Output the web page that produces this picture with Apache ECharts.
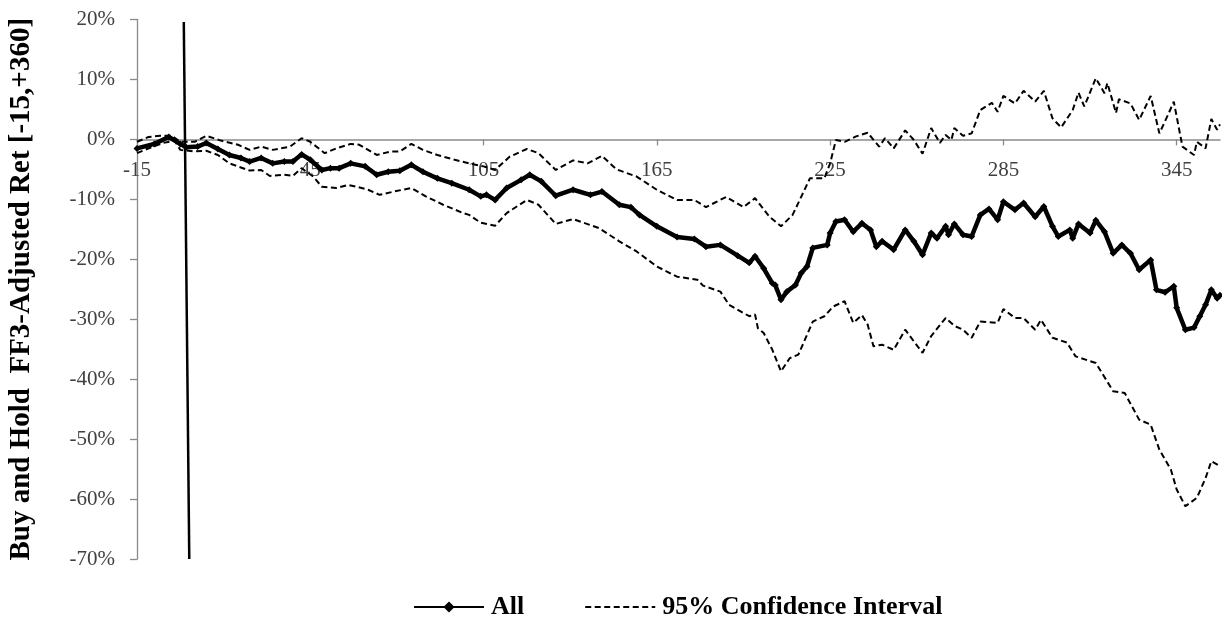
<!DOCTYPE html>
<html>
<head>
<meta charset="utf-8">
<title>Buy and Hold FF3-Adjusted Returns</title>
<script src="https://cdn.jsdelivr.net/npm/echarts@6/dist/echarts.min.js"></script>
<style>
  html, body { margin: 0; padding: 0; background: #ffffff; }
  #chart { width: 1222px; height: 620px; }
</style>
</head>
<body>
<div id="chart"></div>
<script>
// Event-time axis ticks (trading days relative to the event)
const dayTicks = [-15, 45, 105, 165, 225, 285, 345];

// Cumulative buy-and-hold FF3-adjusted return, all firms (%)
const allDays = [-15,-9,-4,0,2,6,9,13,17,21,24,28,32,36,39,42,45,49,52,55,59,64,68,72,76,80,84,89,94,100,104,106,109,113,118,121,125,130,136,142,146,152,156,159,165,172,178,182,187,193,197,199,202,205,206,208,210,213,215,217,219,224,225,227,230,233,236,239,241,243,247,251,254,257,260,262,265,266,268,271,274,277,280,283,285,289,292,296,299,302,304,308,309,311,315,317,320,323,326,329,332,336,338,341,344,345,348,351,353,355,357,359,360];
const allRet = [-1.5,-0.75,0.4,-0.75,-1.3,-1.2,-0.6,-1.6,-2.6,-3.1,-3.7,-3.1,-4.0,-3.7,-3.7,-2.5,-3.4,-5.1,-4.8,-4.8,-4.0,-4.5,-5.9,-5.4,-5.25,-4.25,-5.4,-6.5,-7.3,-8.4,-9.5,-9.25,-10.1,-8.1,-6.75,-5.9,-7.0,-9.4,-8.4,-9.25,-8.7,-10.9,-11.3,-12.6,-14.5,-16.3,-16.6,-17.9,-17.6,-19.4,-20.6,-19.5,-21.5,-24,-24.3,-26.75,-25.4,-24.3,-22.3,-21.2,-18.1,-17.6,-15.6,-13.7,-13.4,-15.4,-14.0,-15.1,-17.9,-17.0,-18.4,-15.1,-17.0,-19.25,-15.6,-16.5,-14.5,-15.9,-14.1,-15.9,-16.2,-12.6,-11.6,-13.4,-10.4,-11.75,-10.6,-12.9,-11.2,-14.5,-16.2,-15.1,-16.5,-14.1,-15.6,-13.5,-15.4,-19,-17.6,-19.0,-21.75,-20.1,-25.1,-25.5,-24.5,-28.1,-31.75,-31.4,-29.5,-27.6,-25.1,-26.5,-26.0];

// Upper bound of the 95% confidence interval (%)
const upperDays = [-15,-11,-7,-3,0,5,9,14,20,24,28,32,38,42,45,50,54,59,62,68,73,76,80,84,89,95,100,105,109,114,120,124,130,136,141,146,151,158,165,172,178,182,189,195,199,204,208,212,214,218,223,225,227,230,234,238,242,244,247,251,254,257,260,263,265,267,268,271,274,277,281,283,285,289,292,296,299,302,305,309,311,313,317,320,321,324,325,329,332,336,339,342,344,347,351,352,355,357,359,360];
const upperRet = [-0.4,0.4,0.6,0.6,-0.4,-0.4,0.6,-0.2,-0.9,-1.75,-1.2,-1.75,-1.2,0.2,-0.4,-2.3,-1.5,-0.75,-0.9,-2.6,-2.0,-2.0,-0.75,-1.75,-2.6,-3.4,-4.0,-4.5,-5.1,-2.9,-1.6,-2.3,-5.1,-3.5,-4.0,-2.75,-5.0,-6.2,-8.4,-10.1,-10.1,-11.3,-9.6,-11.3,-9.8,-12.9,-14.5,-12.6,-10.6,-6.5,-6.5,-4.0,-0.1,-0.4,0.5,1.1,-1.2,0.2,-1.5,1.5,-0.1,-2.4,1.9,-0.6,0.75,-0.1,1.9,0.6,1.0,4.9,6.1,4.6,7.25,6.0,8.1,6.3,8.1,3.5,2.0,4.9,7.8,5.5,10.2,7.7,9.4,4.4,6.7,6.0,3.25,7.25,1.0,4.1,6.3,-1.2,-2.6,-0.4,-1.5,3.4,1.6,2.5];

// Lower bound of the 95% confidence interval (%)
const lowerDays = [-15,-10,-6,-2,0,5,9,13,17,24,28,31,36,39,42,46,49,54,58,61,65,69,74,80,85,91,98,100,104,109,113,120,124,130,136,145,152,158,165,172,179,181,187,190,197,199,200,202,205,208,211,214,219,223,226,230,233,236,238,240,243,247,251,254,257,260,265,268,271,274,277,283,285,289,292,296,298,302,307,310,317,323,327,332,336,339,343,345,348,352,355,357,360];
const lowerRet = [-2.3,-1.3,-0.6,-0.2,-1.75,-2.0,-1.9,-2.6,-4.0,-5.2,-5.1,-6.1,-5.9,-6.1,-4.8,-6.2,-7.9,-8.1,-7.6,-7.9,-8.4,-9.25,-8.7,-8.1,-9.5,-10.9,-12.3,-12.6,-13.9,-14.4,-12.3,-10.1,-10.9,-14.1,-13.3,-14.8,-17.0,-18.7,-21.2,-22.9,-23.4,-24.4,-25.4,-27.6,-29.5,-29.2,-31.5,-32.3,-35.1,-38.7,-36.5,-35.9,-30.4,-29.5,-27.9,-27.0,-30.6,-29.3,-30.9,-34.5,-34.25,-35.1,-31.75,-33.7,-35.6,-32.8,-29.8,-31.1,-31.75,-33.1,-30.4,-30.6,-28.3,-29.8,-29.8,-31.75,-30.1,-33.1,-33.9,-36.2,-37.3,-42,-42.3,-46.75,-47.6,-51.75,-55.1,-58.4,-61.2,-59.8,-56.5,-53.7,-54.5];

// Event-day marker line (day, %)
const eventDays = [1.2, 3.1];
const eventRet = [19.6, -70];

const zip = (xs, ys) => xs.map((x, i) => [x, ys[i]]);

const SERIF = '"Liberation Serif", "DejaVu Serif", serif';
const AXIS_GREY = '#8a8a8a';
const CI_NAME = '95% Confidence Interval';

// Plot box
const GRID = { left: 137, right: 2, top: 19.5, bottom: 61 };
const Y_MIN = -70, Y_MAX = 20;
// Horizontal axis sits on the 0% line
const plotHeight = 620 - GRID.top - GRID.bottom;
const zeroOffset = -plotHeight * (0 - Y_MIN) / (Y_MAX - Y_MIN);

const chart = echarts.init(document.getElementById('chart'), null, { renderer: 'canvas' });

chart.setOption({
  animation: false,
  backgroundColor: '#ffffff',
  grid: Object.assign({ containLabel: false, outerBoundsMode: 'none' }, GRID),
  legend: {
    data: ['All', { name: CI_NAME, itemStyle: { opacity: 0 } }],
    bottom: 0,
    left: 413,
    padding: 0,
    itemWidth: 70,
    itemHeight: 14,
    itemGap: 60,
    textStyle: { fontFamily: SERIF, fontWeight: 'bold', fontSize: 26, color: '#000', padding: [0, 0, 0, 2] }
  },
  xAxis: {
    type: 'value',
    min: -15,
    max: 360,
    offset: zeroOffset,
    axisLine: { onZero: false, lineStyle: { color: AXIS_GREY, width: 1.5 } },
    axisTick: { show: true, length: 6, customValues: dayTicks, lineStyle: { color: AXIS_GREY, width: 1.3 } },
    axisLabel: {
      customValues: dayTicks,
      margin: 21,
      fontFamily: SERIF,
      fontSize: 21,
      color: '#404040'
    },
    splitLine: { show: false }
  },
  yAxis: {
    type: 'value',
    min: Y_MIN,
    max: Y_MAX,
    interval: 10,
    name: 'Buy and Hold  FF3-Adjusted Ret [-15,+360]',
    nameLocation: 'middle',
    nameGap: 101,
    nameTextStyle: { fontFamily: SERIF, fontWeight: 'bold', fontSize: 29, color: '#000' },
    axisLine: { show: true, onZero: false, lineStyle: { color: AXIS_GREY, width: 1.3 } },
    axisTick: { show: true, length: 7, lineStyle: { color: AXIS_GREY, width: 1.3 } },
    axisLabel: {
      formatter: '{value}%',
      margin: 22,
      fontFamily: SERIF,
      fontSize: 21,
      color: '#404040'
    },
    splitLine: { show: false }
  },
  series: [
    {
      name: CI_NAME,
      type: 'line',
      data: zip(upperDays, upperRet),
      showSymbol: false,
      itemStyle: { color: '#000' },
      lineStyle: { color: '#000', width: 2, type: [6, 3.5] },
      z: 3
    },
    {
      name: CI_NAME,
      type: 'line',
      data: zip(lowerDays, lowerRet),
      showSymbol: false,
      itemStyle: { color: '#000' },
      lineStyle: { color: '#000', width: 2, type: [6, 3.5] },
      z: 3
    },
    {
      name: 'All',
      type: 'line',
      data: zip(allDays, allRet),
      symbol: 'diamond',
      symbolSize: 7,
      showSymbol: true,
      itemStyle: { color: '#000' },
      lineStyle: { color: '#000', width: 4.5 },
      z: 4
    },
    {
      name: 'event',
      type: 'line',
      data: zip(eventDays, eventRet),
      symbol: 'none',
      clip: false,
      lineStyle: { color: '#000', width: 2.5 },
      z: 5
    }
  ]
});
</script>
</body>
</html>
